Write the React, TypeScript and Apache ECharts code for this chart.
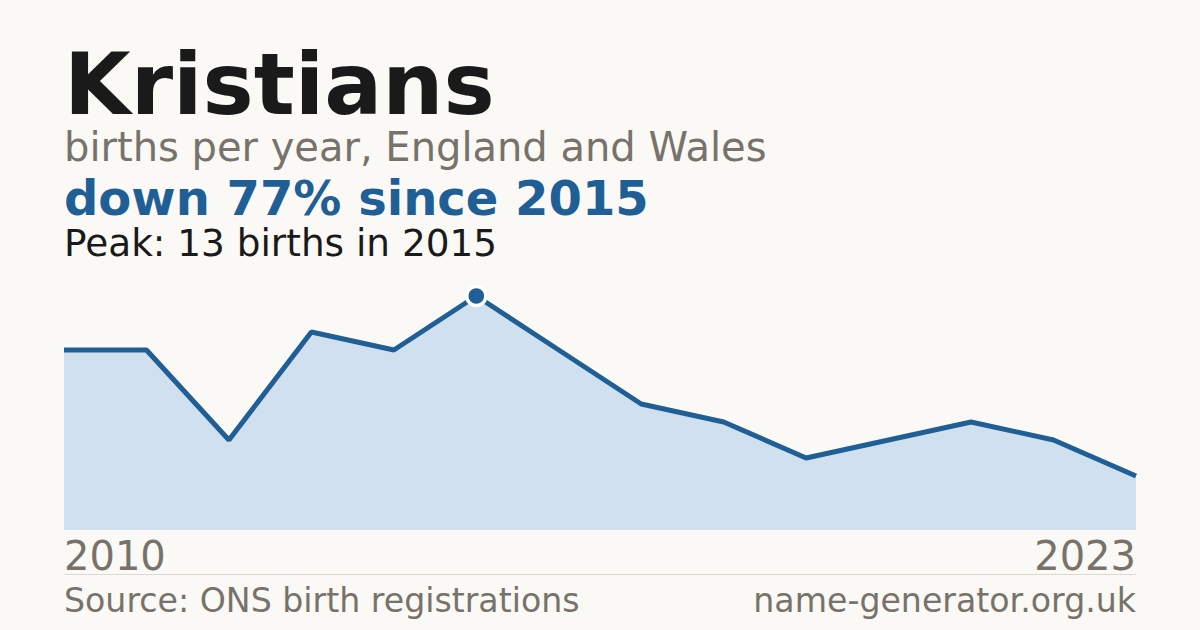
import { useEffect, useRef } from "react";
import * as echarts from "echarts";

const years = ["2010", "2011", "2012", "2013", "2014", "2015", "2016", "2017", "2018", "2019", "2020", "2021", "2022", "2023"];
const births = [10, 10, 5, 11, 10, 13, 10, 7, 6, 4, 5, 6, 5, 3];
const peakYear = "2015";
const peakValue = 13;

const FONT = "DejaVu Sans, sans-serif";
const BLUE = "#1f5f96";
const GREY = "#77736b";

export default function App() {
  const chartRef = useRef<HTMLDivElement | null>(null);

  useEffect(() => {
    if (!chartRef.current) return;
    const chart = echarts.init(chartRef.current, null, { renderer: "svg" });

    // alphabetic baseline -> y for verticalAlign middle
    const mid = (baseline: number, size: number) => baseline - 0.346 * size + 3;

    chart.setOption({
      animation: false,
      backgroundColor: "#faf9f5",
      grid: { left: 64, right: 64, top: 296, bottom: 100 },
      xAxis: {
        type: "category",
        data: years,
        boundaryGap: false,
        axisLine: { show: false },
        axisTick: { show: false },
        splitLine: { show: false },
        axisLabel: {
          interval: (i: number) => i === 0 || i === years.length - 1,
          alignMinLabel: "left",
          alignMaxLabel: "right",
          fontFamily: FONT,
          fontSize: 40,
          color: GREY,
          margin: 6,
        },
      },
      yAxis: { type: "value", min: 0, max: 13, show: false },
      series: [
        {
          type: "line",
          data: births,
          symbol: "none",
          lineStyle: { color: BLUE, width: 5 },
          areaStyle: { color: "#d0e0ef", opacity: 1 },
          markPoint: {
            symbol: "circle",
            symbolSize: 19,
            itemStyle: { color: BLUE, borderColor: "#ffffff", borderWidth: 3.5 },
            label: { show: false },
            data: [{ coord: [peakYear, peakValue] }],
          },
        },
      ],
      graphic: [
        {
          type: "text",
          left: 64,
          y: mid(111, 86),
          style: { text: "Kristians", font: `bold 86px ${FONT}`, lineHeight: 66, fill: "#1a1a1a", verticalAlign: "middle" },
        },
        {
          type: "text",
          left: 64,
          y: mid(158, 40),
          style: { text: "births per year, England and Wales", font: `40px ${FONT}`, lineHeight: 34, fill: GREY, verticalAlign: "middle" },
        },
        {
          type: "text",
          left: 64,
          y: mid(212, 48),
          style: { text: "down 77% since 2015", font: `bold 48px ${FONT}`, lineHeight: 38, fill: BLUE, verticalAlign: "middle" },
        },
        {
          type: "text",
          left: 64,
          y: mid(253, 37.4),
          style: { text: "Peak: 13 births in 2015", font: `37.4px ${FONT}`, lineHeight: 32, fill: "#1a1a1a", verticalAlign: "middle" },
        },
        {
          type: "line",
          shape: { x1: 64, y1: 574.5, x2: 1136, y2: 574.5 },
          style: { stroke: "#dcd9d2", lineWidth: 1 },
        },
        {
          type: "text",
          left: 64,
          y: mid(609, 33.2),
          style: { text: "Source: ONS birth registrations", font: `33.2px ${FONT}`, lineHeight: 30, fill: GREY, verticalAlign: "middle" },
        },
        {
          type: "text",
          right: 64,
          y: mid(609, 33.2),
          style: { text: "name-generator.org.uk", font: `33.2px ${FONT}`, lineHeight: 30, fill: GREY, verticalAlign: "middle" },
        },
      ],
    });

    return () => chart.dispose();
  }, []);

  return <div ref={chartRef} style={{ width: 1200, height: 630, position: "absolute", left: 0, top: 0 }} />;
}
